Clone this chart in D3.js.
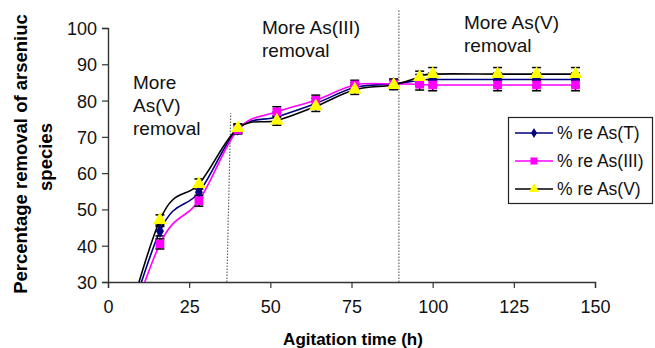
<!DOCTYPE html>
<html>
<head>
<meta charset="utf-8">
<script src="https://cdn.jsdelivr.net/npm/d3@7"></script>
<style>
  body { margin: 0; background: #fff; }
  text { font-family: Arial, "Liberation Sans", sans-serif; fill: #000; }
</style>
</head>
<body>
<script>
var width = 655,
    height = 348;

// agitation time (h)
var hours = [0, 16, 28, 40, 52, 64, 76, 88, 96, 100, 120, 132, 144];

// percentage removal
var reT   = [0, 44.0, 54.7, 72.2, 75.5, 79.2, 83.6, 84.6, 85.6, 85.8, 85.8, 85.8, 85.8];
var reIII = [0, 40.5, 52.4, 72.0, 76.9, 80.1, 84.3, 84.6, 84.5, 84.3, 84.3, 84.3, 84.3];
var reV   = [0, 47.1, 57.0, 72.4, 74.5, 78.4, 83.0, 84.3, 86.5, 87.3, 87.3, 87.3, 87.3];

// error bars (+/-)
var errT   = [0, 1.3, 1.4, 1.2, 1.3, 1.4, 1.3, 1.3, 1.6, 1.8, 1.8, 1.8, 1.8];
var errIII = [0, 1.4, 1.5, 1.2, 1.4, 1.4, 1.3, 1.3, 1.6, 1.6, 1.6, 1.6, 1.6];
var errV   = [0, 1.4, 1.4, 1.2, 1.3, 1.4, 1.3, 1.3, 1.6, 1.8, 1.8, 1.8, 1.8];

var seriesNames = ["% re As(T)", "% re As(III)", "% re As(V)"];
var xTicks = [0, 25, 50, 75, 100, 125, 150];
var yTicks = [30, 40, 50, 60, 70, 80, 90, 100];

var series = [
  { name: seriesNames[0], values: reT,   err: errT,   line: "#000080", fill: "#000080", symbol: d3.symbolDiamond,  size: 55, legendSize: 30 },
  { name: seriesNames[1], values: reIII, err: errIII, line: "#ff00ff", fill: "#ff00ff", symbol: d3.symbolSquare,   size: 75, legendSize: 50 },
  { name: seriesNames[2], values: reV,   err: errV,   line: "#000000", fill: "#ffff00", symbol: d3.symbolTriangle, size: 80, legendSize: 45 }
];

var x = d3.scaleLinear().domain([0, 150]).range([108, 595]);
var y = d3.scaleLinear().domain([30, 100]).range([282, 28]);

var svg = d3.select("body").append("svg")
    .attr("width", width)
    .attr("height", height);

svg.append("defs").append("clipPath")
    .attr("id", "plot")
  .append("rect")
    .attr("x", x(0))
    .attr("y", y(100) - 10)
    .attr("width", x(150) - x(0) + 10)
    .attr("height", y(30) - y(100) + 10);

// dividing lines between removal regimes
var dividers = [
  { x1: 36.6, y1: 30, x2: 37.8, y2: 76.5 },
  { x1: 89.6, y1: 30, x2: 89.6, y2: 105 }
];
svg.selectAll(".divider")
    .data(dividers)
  .enter().append("line")
    .attr("class", "divider")
    .attr("x1", function(d) { return x(d.x1); })
    .attr("y1", function(d) { return y(d.y1); })
    .attr("x2", function(d) { return x(d.x2); })
    .attr("y2", function(d) { return y(d.y2); })
    .style("stroke", "#666")
    .style("stroke-width", 1.2)
    .style("stroke-dasharray", "1.5,1.5");

// axes
var xAxis = svg.append("g")
    .attr("transform", "translate(0," + y(30) + ")")
    .call(d3.axisBottom(x).tickValues(xTicks).tickSize(6).tickPadding(12));
var yAxis = svg.append("g")
    .attr("transform", "translate(" + x(0) + ",0)")
    .call(d3.axisLeft(y).tickValues(yTicks).tickSize(6).tickPadding(5));

[xAxis, yAxis].forEach(function(g) {
  g.select(".domain").style("stroke", "#333").style("stroke-width", 1.4);
  g.selectAll(".tick line").style("stroke", "#333").style("stroke-width", 1.2);
  g.selectAll(".tick text")
      .style("font-size", "18px")
      .style("font-family", "Arial, 'Liberation Sans', sans-serif")
      .style("fill", "#111");
});
yAxis.selectAll(".tick text").attr("dy", "0.36em");

// lines
var line = d3.line()
    .curve(d3.curveCatmullRom.alpha(0))
    .x(function(d) { return x(d[0]); })
    .y(function(d) { return y(d[1]); });

var plot = svg.append("g").attr("clip-path", "url(#plot)");

series.forEach(function(s) {
  var pts = hours.map(function(h, i) { return [h, s.values[i], s.err[i]]; });

  plot.append("path")
      .datum(pts)
      .attr("d", line)
      .style("fill", "none")
      .style("stroke", s.line)
      .style("stroke-width", 1.6);

  var eb = plot.selectAll(null)
      .data(pts.filter(function(d) { return d[0] > 0; }))
    .enter().append("g")
      .style("stroke", "#000")
      .style("stroke-width", 1.5);
  eb.append("line")
      .attr("x1", function(d) { return x(d[0]); })
      .attr("x2", function(d) { return x(d[0]); })
      .attr("y1", function(d) { return y(d[1] - d[2]); })
      .attr("y2", function(d) { return y(d[1] + d[2]); });
  eb.selectAll(".cap")
      .data(function(d) { return [[d[0], d[1] - d[2]], [d[0], d[1] + d[2]]]; })
    .enter().append("line")
      .attr("x1", function(d) { return x(d[0]) - 4.5; })
      .attr("x2", function(d) { return x(d[0]) + 4.5; })
      .attr("y1", function(d) { return y(d[1]); })
      .attr("y2", function(d) { return y(d[1]); });
});

series.forEach(function(s) {
  var pts = hours.map(function(h, i) { return [h, s.values[i]]; });
  plot.selectAll(null)
      .data(pts.filter(function(d) { return d[0] > 0; }))
    .enter().append("path")
      .attr("transform", function(d) { return "translate(" + x(d[0]) + "," + y(d[1]) + ")"; })
      .attr("d", d3.symbol().type(s.symbol).size(s.size))
      .style("fill", s.fill);
});

// annotations
var notes = [
  { x: 133, y: 89, lines: ["More", "As(V)", "removal"] },
  { x: 262, y: 34, lines: ["More As(III)", "removal"] },
  { x: 464, y: 29, lines: ["More As(V)", "removal"] }
];
notes.forEach(function(n) {
  var t = svg.append("text")
      .attr("x", n.x)
      .attr("y", n.y)
      .style("font-size", "19px")
      .style("fill", "#111");
  n.lines.forEach(function(l, i) {
    t.append("tspan")
        .attr("x", n.x)
        .attr("dy", i === 0 ? 0 : 23)
        .text(l);
  });
});

// legend
var legend = svg.append("g");
legend.append("rect")
    .attr("x", 508.5)
    .attr("y", 117.5)
    .attr("width", 144)
    .attr("height", 86)
    .style("fill", "#fff")
    .style("stroke", "#222")
    .style("stroke-width", 1.2);

var item = legend.selectAll(".item")
    .data(series)
  .enter().append("g")
    .attr("class", "item")
    .attr("transform", function(d, i) { return "translate(0," + (133 + i * 28) + ")"; });
item.append("line")
    .attr("x1", 515)
    .attr("x2", 553)
    .style("stroke", function(d) { return d.line; })
    .style("stroke-width", 1.6);
item.append("path")
    .attr("transform", "translate(534,0)")
    .attr("d", function(d) { return d3.symbol().type(d.symbol).size(d.legendSize)(); })
    .style("fill", function(d) { return d.fill; });
item.append("text")
    .attr("x", 557)
    .attr("dy", "0.35em")
    .style("font-size", "17.5px")
    .style("fill", "#111")
    .text(function(d) { return d.name; });

// axis titles
svg.append("text")
    .attr("x", 353)
    .attr("y", 345)
    .attr("text-anchor", "middle")
    .style("font-size", "17px")
    .style("font-weight", "bold")
    .text("Agitation time (h)");

svg.append("text")
    .attr("transform", "translate(27,154) rotate(-90)")
    .attr("text-anchor", "middle")
    .style("font-size", "18.5px")
    .style("font-weight", "bold")
    .text("Percentage removal of arseniuc");
svg.append("text")
    .attr("transform", "translate(52,157) rotate(-90)")
    .attr("text-anchor", "middle")
    .style("font-size", "18.5px")
    .style("font-weight", "bold")
    .text("species");
</script>
</body>
</html>
